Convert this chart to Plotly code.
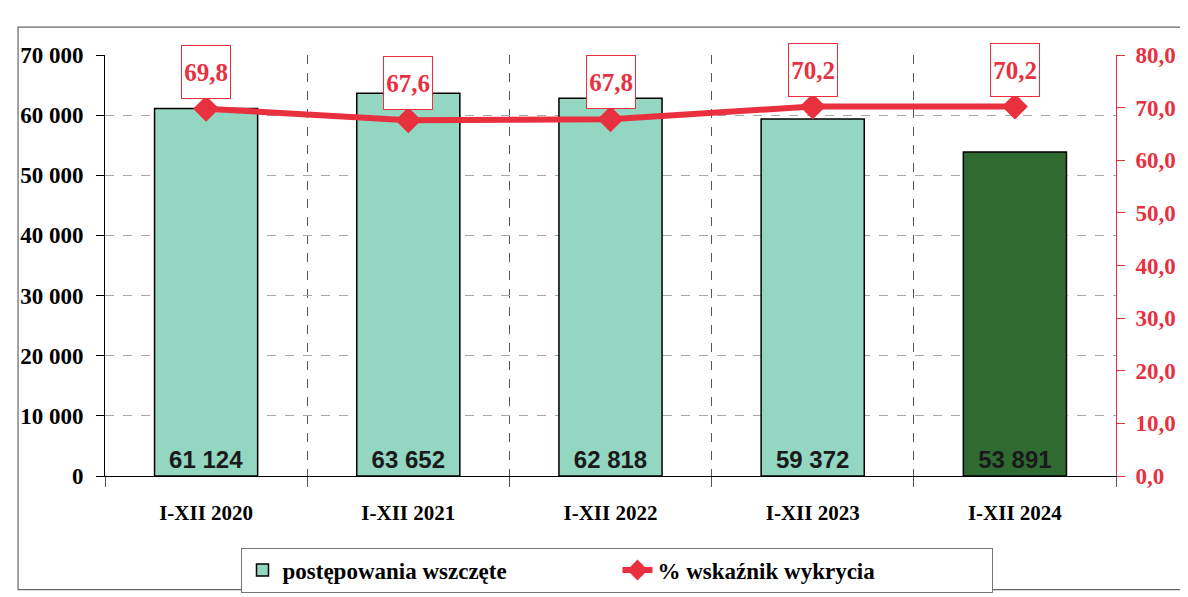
import plotly.graph_objs as go

# dane
okresy = ["I-XII 2020", "I-XII 2021", "I-XII 2022", "I-XII 2023", "I-XII 2024"]
wszczete = [61124, 63652, 62818, 59372, 53891]
wykrywalnosc = [69.8, 67.6, 67.8, 70.2, 70.2]

kolory_slupkow = ["#93d6c2", "#93d6c2", "#93d6c2", "#93d6c2", "#2f6b31"]
czerwony = "#e8303f"
szeryf = "Liberation Serif"

fig = go.Figure()

# slupki - postepowania wszczete
fig.add_trace(go.Bar(
    x=okresy,
    y=wszczete,
    name="postępowania wszczęte",
    marker=dict(color=kolory_slupkow, line=dict(color="black", width=1.5)),
    texttemplate="%{y:,d}",
    textposition="inside",
    insidetextanchor="start",
    textangle=0,
    textfont=dict(family="Liberation Sans", size=24, color="#1a1a1a", weight="bold"),
    cliponaxis=False,
))

# linia - wskaznik wykrycia
fig.add_trace(go.Scatter(
    x=okresy,
    y=wykrywalnosc,
    name="% wskaźnik wykrycia",
    yaxis="y2",
    mode="lines+markers",
    line=dict(color=czerwony, width=6),
    marker=dict(symbol="diamond", size=20, color=czerwony),
))

# etykiety w ramkach nad punktami
for okres, w in zip(okresy, wykrywalnosc):
    fig.add_annotation(
        x=okres, y=w, yref="y2",
        text=f"{w:.1f}".replace(".", ","),
        showarrow=False,
        yanchor="bottom",
        yshift=10,
        width=46, height=50,
        bgcolor="white",
        bordercolor=czerwony,
        borderwidth=1,
        font=dict(family=szeryf, size=25, color=czerwony, weight="bold"),
    )

# ramka calego wykresu
fig.add_shape(type="rect", xref="paper", yref="paper",
              x0=-0.086, x1=1.071, y0=-0.27, y1=1.066,
              line=dict(color="#666666", width=1.2))

fig.update_layout(
    width=1188,
    height=597,
    margin=dict(l=95, r=80, t=47, b=114),
    plot_bgcolor="white",
    paper_bgcolor="white",
    font=dict(family=szeryf, color="black"),
    separators=", ",
    bargap=0.49,
    showlegend=True,
    legend=dict(
        orientation="h",
        x=0.135, y=-0.17,
        xanchor="left", yanchor="top",
        bordercolor="#777777", borderwidth=1,
        entrywidth=330,
        font=dict(family=szeryf, size=23, color="black", weight="bold"),
    ),
    xaxis=dict(
        tickson="boundaries",
        ticks="outside",
        ticklen=10,
        tickcolor="#555555",
        showgrid=True,
        gridcolor="#555555",
        griddash="dash",
        gridwidth=1,
        showline=True,
        linecolor="black",
        linewidth=1,
        ticklabelstandoff=18,
        tickfont=dict(family=szeryf, size=21, color="black", weight="bold"),
    ),
    yaxis=dict(
        range=[0, 70000],
        dtick=10000,
        tickformat=",d",
        ticks="outside",
        ticklen=8,
        tickcolor="black",
        showline=True,
        linecolor="black",
        showgrid=True,
        gridcolor="#a8a8a8",
        griddash="dash",
        zeroline=False,
        ticklabelstandoff=8,
        tickfont=dict(family=szeryf, size=23, color="black", weight="bold"),
    ),
    yaxis2=dict(
        range=[0, 80],
        dtick=10,
        tickformat=".1f",
        overlaying="y",
        side="right",
        showgrid=False,
        zeroline=False,
        showline=True,
        linecolor=czerwony,
        ticks="outside",
        ticklen=8,
        tickcolor=czerwony,
        ticklabelstandoff=6,
        tickfont=dict(family=szeryf, size=23, color=czerwony, weight="bold"),
    ),
)

fig.write_html("out.html")
